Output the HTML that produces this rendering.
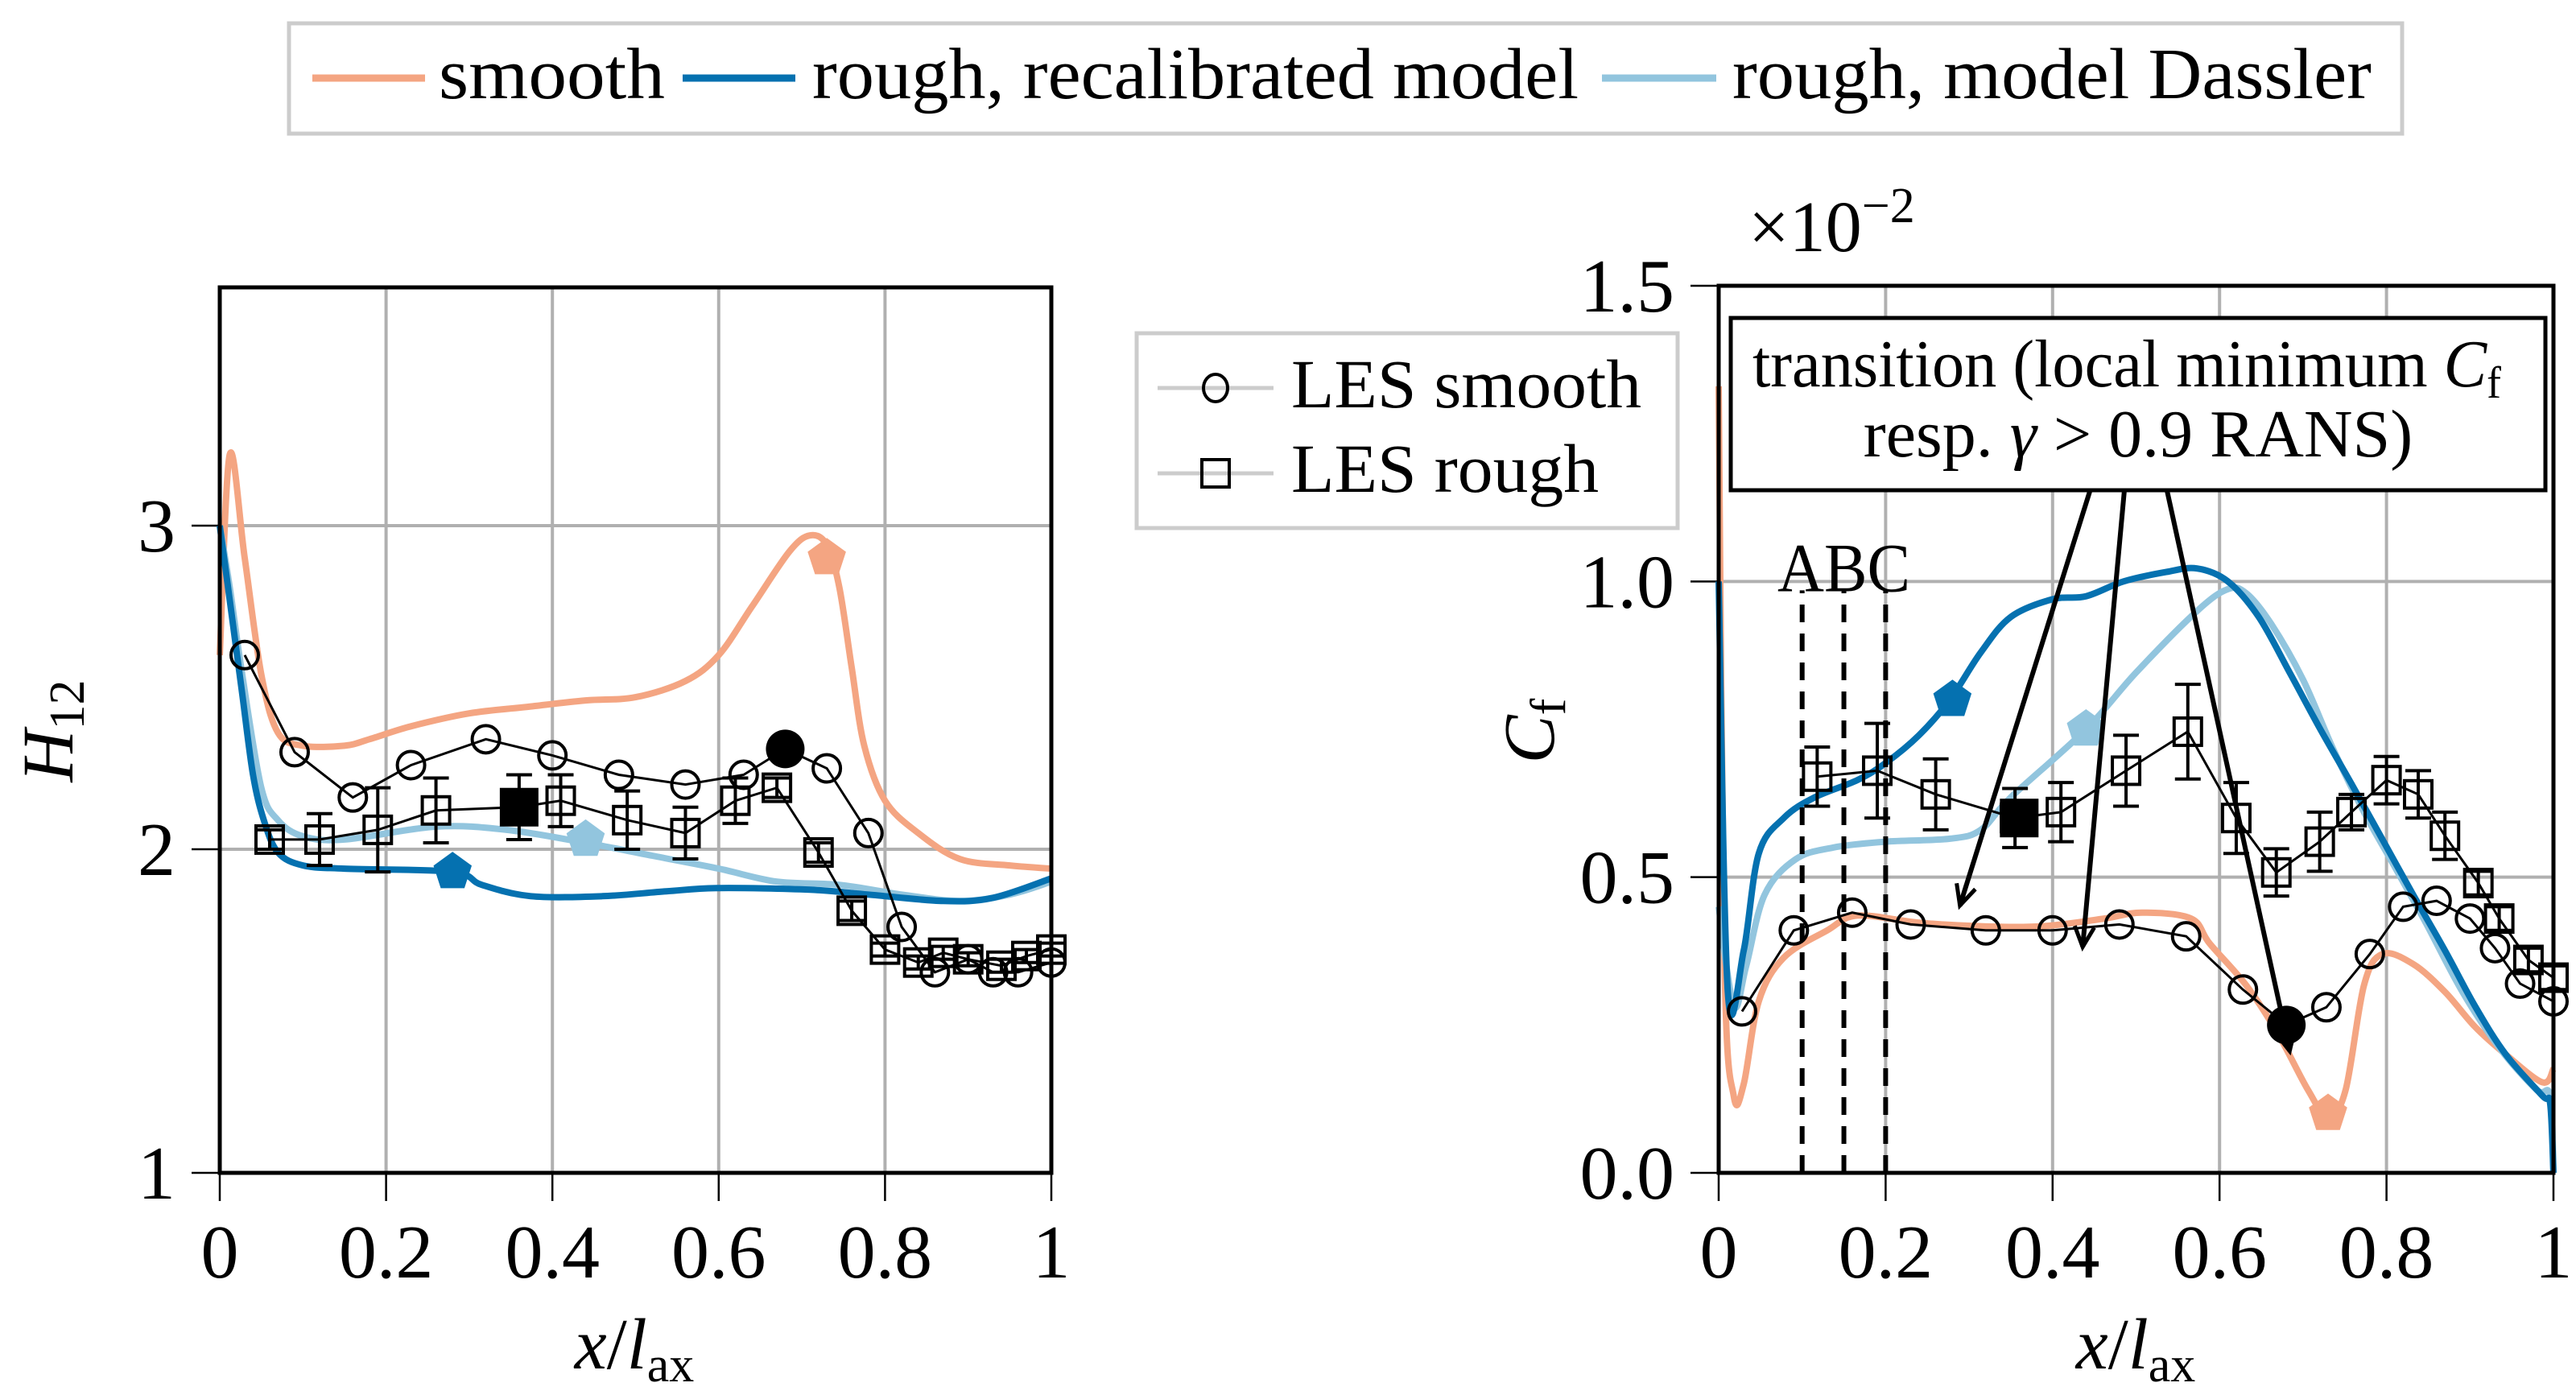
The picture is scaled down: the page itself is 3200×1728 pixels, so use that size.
<!DOCTYPE html>
<html><head><meta charset="utf-8"><style>
html,body{margin:0;padding:0;background:#fff;}
svg{display:block;font-family:"Liberation Serif",serif;}
</style></head><body>
<svg id="chart" width="3200" height="1728" viewBox="0 0 3200 1728">
<g id="top-legend">
 <rect x="359" y="29" width="2625" height="137" fill="#fff" stroke="#ccc" stroke-width="5"/>
 <line x1="388" y1="97" x2="528" y2="97" stroke="#f4a582" stroke-width="9"/>
 <text x="545" y="122" font-size="90" textLength="281" lengthAdjust="spacingAndGlyphs">smooth</text>
 <line x1="848" y1="97" x2="988" y2="97" stroke="#0571b0" stroke-width="9"/>
 <text x="1009" y="122" font-size="90" textLength="952" lengthAdjust="spacingAndGlyphs">rough, recalibrated model</text>
 <line x1="1990" y1="97" x2="2132" y2="97" stroke="#92c5de" stroke-width="9"/>
 <text x="2152" y="122" font-size="90" textLength="794" lengthAdjust="spacingAndGlyphs">rough, model Dassler</text>
</g>
<g id="les-legend">
 <rect x="1412" y="414" width="672" height="242" fill="#fff" stroke="#ccc" stroke-width="5"/>
 <line x1="1438" y1="482" x2="1582" y2="482" stroke="#ccc" stroke-width="5"/>
 <ellipse cx="1510" cy="482" rx="15" ry="17" fill="none" stroke="#000" stroke-width="4"/>
 <text x="1604" y="506" font-size="86" textLength="435" lengthAdjust="spacingAndGlyphs">LES smooth</text>
 <line x1="1438" y1="588" x2="1582" y2="588" stroke="#ccc" stroke-width="5"/>
 <rect x="1493" y="571" width="34" height="34" fill="none" stroke="#000" stroke-width="4"/>
 <text x="1604" y="611" font-size="86" textLength="382" lengthAdjust="spacingAndGlyphs">LES rough</text>
</g>
<g id="left"></g>
<g id="right"></g>
</svg>
<script>
// ---------- Left plot data (H12) ----------
const hSmoothX = [0,0.012,0.03,0.05,0.07,0.1,0.15,0.18,0.23,0.3,0.37,0.44,0.5,0.56,0.6,0.64,0.685,0.71,0.73,0.745,0.76,0.775,0.8,0.84,0.89,0.95,1];
const hSmoothY = [2.6,3.22,2.9,2.54,2.36,2.32,2.32,2.34,2.38,2.42,2.44,2.46,2.47,2.52,2.6,2.75,2.92,2.97,2.94,2.81,2.56,2.32,2.15,2.05,1.97,1.95,1.94];
const hRecalX = [0,0.012,0.027,0.04,0.053,0.07,0.1,0.15,0.28,0.315,0.374,0.46,0.537,0.6,0.71,0.78,0.87,0.93,1];
const hRecalY = [3.0,2.77,2.48,2.23,2.09,1.99,1.95,1.94,1.93,1.89,1.855,1.855,1.87,1.88,1.875,1.86,1.84,1.85,1.91];
const hDassX = [0,0.012,0.027,0.05,0.07,0.1,0.15,0.26,0.345,0.44,0.52,0.6,0.67,0.745,0.82,0.89,0.95,1];
const hDassY = [3.0,2.81,2.54,2.19,2.09,2.04,2.03,2.07,2.06,2.02,1.98,1.94,1.9,1.89,1.86,1.84,1.86,1.9];
const hLesSX = [0.03,0.09,0.16,0.23,0.32,0.4,0.48,0.56,0.63,0.68,0.73,0.78,0.82,0.86,0.9,0.93,0.96,1];
const hLesSY = [2.6,2.3,2.16,2.26,2.34,2.29,2.23,2.2,2.23,2.31,2.25,2.05,1.76,1.62,1.66,1.62,1.62,1.65];
const hLesRX = [0.06,0.12,0.19,0.26,0.36,0.41,0.49,0.56,0.62,0.67,0.72,0.76,0.8,0.84,0.87,0.9,0.94,0.97,1];
const hLesRY = [2.03,2.03,2.06,2.12,2.13,2.15,2.09,2.05,2.15,2.19,1.99,1.81,1.69,1.65,1.68,1.66,1.64,1.67,1.69];
const hLesRErr = [0.03,0.08,0.13,0.1,0.1,0.08,0.09,0.08,0.07,0.03,0.03,0.03,0.02,0.02,0.02,0.02,0.02,0.02,0.02];
const hTransRecal = [0.28,1.93];
const hTransDass = [0.44,2.03];
const hTransSmooth = [0.73,2.9];
const hTransLesS = [0.68,2.31];
const hTransLesR = [0.36,2.13];
const hXTicks = [0,0.2,0.4,0.6,0.8,1];
const hXTickLabels = ["0","0.2","0.4","0.6","0.8","1"];
const hYTicks = [1,2,3];
const hYTickLabels = ["1","2","3"];

// ---------- Right plot data (Cf, x1e-2) ----------
const cSmoothX = [0,0.007,0.018,0.03,0.048,0.078,0.13,0.166,0.24,0.314,0.388,0.462,0.507,0.566,0.588,0.632,0.67,0.706,0.73,0.751,0.773,0.795,0.832,0.87,0.906,0.943,0.987,1];
const cSmoothY = [1.33,0.35,0.13,0.15,0.29,0.364,0.41,0.435,0.423,0.417,0.417,0.43,0.44,0.43,0.388,0.317,0.235,0.14,0.094,0.14,0.317,0.37,0.353,0.306,0.247,0.2,0.153,0.176];
const cRecalX = [0,0.011,0.03,0.048,0.078,0.115,0.166,0.2,0.24,0.277,0.314,0.35,0.4,0.44,0.485,0.536,0.573,0.61,0.647,0.684,0.72,0.758,0.795,0.832,0.87,0.906,0.943,0.987,0.996,1];
const cRecalY = [1.0,0.305,0.376,0.54,0.6,0.635,0.664,0.693,0.74,0.8,0.88,0.94,0.97,0.975,1.0,1.016,1.022,1.0,0.94,0.846,0.752,0.658,0.564,0.47,0.376,0.282,0.2,0.13,0.117,0];
const cDassX = [0,0.018,0.033,0.055,0.092,0.137,0.2,0.277,0.314,0.35,0.44,0.5,0.573,0.61,0.632,0.662,0.7,0.736,0.773,0.81,0.847,0.891,0.936,0.98,0.996,1];
const cDassY = [0.45,0.282,0.35,0.47,0.53,0.55,0.56,0.565,0.58,0.635,0.75,0.846,0.95,0.987,0.98,0.928,0.834,0.717,0.61,0.517,0.423,0.306,0.21,0.14,0.13,0];
const cLesSX = [0.028,0.09,0.16,0.23,0.32,0.4,0.48,0.56,0.628,0.68,0.728,0.78,0.82,0.86,0.9,0.93,0.96,1];
const cLesSY = [0.273,0.41,0.44,0.42,0.41,0.41,0.42,0.4,0.31,0.25,0.28,0.37,0.45,0.46,0.43,0.38,0.32,0.29];
const cLesRX = [0.118,0.19,0.26,0.355,0.41,0.488,0.562,0.62,0.668,0.72,0.758,0.8,0.838,0.87,0.91,0.935,0.97,1];
const cLesRY = [0.67,0.68,0.64,0.6,0.61,0.68,0.746,0.6,0.508,0.56,0.61,0.664,0.64,0.57,0.49,0.43,0.36,0.33];
const cLesRErr = [0.05,0.08,0.06,0.05,0.05,0.06,0.08,0.06,0.04,0.05,0.03,0.04,0.04,0.04,0.02,0.02,0.02,0.02];
const cTransRecal = [0.28,0.8];
const cTransDass = [0.44,0.75];
const cTransSmooth = [0.73,0.1];
const cTransLesS = [0.68,0.25];
const cTransLesR = [0.36,0.6];
const cAbcLines = [0.1,0.15,0.2];
const cArrowStartX = [0.445,0.486,0.537];
const cArrowEndX = [0.289,0.436,0.684];
const cArrowEndY = [0.452,0.382,0.206];
const cXTicks = [0,0.2,0.4,0.6,0.8,1];
const cXTickLabels = ["0","0.2","0.4","0.6","0.8","1"];
const cYTicks = [0,0.5,1.0,1.5];
const cYTickLabels = ["0.0","0.5","1.0","1.5"];

const NS = "http://www.w3.org/2000/svg";
function mk(parent, tag, attrs) {
  const e = document.createElementNS(NS, tag);
  for (const k in attrs) e.setAttribute(k, attrs[k]);
  parent.appendChild(e);
  return e;
}
function linePath(xs, ys, sx, sy) {
  return xs.map((v, i) => (i ? "L" : "M") + sx(v).toFixed(1) + "," + sy(ys[i]).toFixed(1)).join(" ");
}
function smoothPath(xs, ys, sx, sy) {
  const P = xs.map((v, i) => [sx(v), sy(ys[i])]);
  let d = "M" + P[0][0].toFixed(1) + "," + P[0][1].toFixed(1);
  const t = 0.5 / 3;
  for (let i = 0; i < P.length - 1; i++) {
    const p0 = P[Math.max(0, i - 1)], p1 = P[i], p2 = P[i + 1], p3 = P[Math.min(P.length - 1, i + 2)];
    const c1 = [p1[0] + (p2[0] - p0[0]) * t, p1[1] + (p2[1] - p0[1]) * t];
    const c2 = [p2[0] - (p3[0] - p1[0]) * t, p2[1] - (p3[1] - p1[1]) * t];
    d += " C" + c1.map(v => v.toFixed(1)).join(",") + " " + c2.map(v => v.toFixed(1)).join(",") + " " + p2.map(v => v.toFixed(1)).join(",");
  }
  return d;
}
function pentagon(cx, cy, r) {
  const p = [];
  for (let i = 0; i < 5; i++) { const a = -Math.PI/2 + i*2*Math.PI/5; p.push((cx + r*Math.cos(a)).toFixed(1) + "," + (cy + r*Math.sin(a)).toFixed(1)); }
  return p.join(" ");
}

function drawPlot(g, cfg) {
  const sx = v => cfg.x0 + (v - cfg.xmin) / (cfg.xmax - cfg.xmin) * (cfg.x1 - cfg.x0);
  const sy = v => cfg.yb + (v - cfg.ymin) / (cfg.ymax - cfg.ymin) * (cfg.yt - cfg.yb);
  cfg.xt.forEach((t, i) => {
    if (i > 0 && i < cfg.xt.length - 1) {
      const gl = mk(g, "line", {x1: sx(t), x2: sx(t), y1: cfg.yt, y2: cfg.yb, stroke: "#b0b0b0", "stroke-width": 4});
      
      
    }
    const tk = mk(g, "line", {x1: sx(t), x2: sx(t), y1: cfg.yb, y2: cfg.yb + 35, stroke: "#000", "stroke-width": 2.5});
    
    
    const tl = mk(g, "text", {x: sx(t), y: cfg.yb + 130, "font-size": 94, "text-anchor": "middle"});
    tl.textContent = cfg.xl[i];
    
    
  });
  cfg.yt_.forEach((t, i) => {
    if (sy(t) > cfg.yt + 2 && sy(t) < cfg.yb - 2) {
      const gl = mk(g, "line", {x1: cfg.x0, x2: cfg.x1, y1: sy(t), y2: sy(t), stroke: "#b0b0b0", "stroke-width": 4});
      
      
    }
    const tk = mk(g, "line", {x1: cfg.x0 - 35, x2: cfg.x0, y1: sy(t), y2: sy(t), stroke: "#000", "stroke-width": 2.5});
    
    
    const tl = mk(g, "text", {x: cfg.x0 - 55, y: sy(t) + 32, "font-size": 94, "text-anchor": "end"});
    tl.textContent = cfg.yl[i];
    
    
  });
  const curves = [[cfg.smX, cfg.smY, "#f4a582", "smooth-curve"], [cfg.daX, cfg.daY, "#92c5de", "dassler-curve"], [cfg.reX, cfg.reY, "#0571b0", "recalibrated-curve"]];
  curves.forEach(c => {
    const p = mk(g, "path", {d: smoothPath(c[0], c[1], sx, sy), fill: "none", stroke: c[2], "stroke-width": 8, "stroke-linejoin": "round"});
    
    
  });
  const ls = mk(g, "path", {d: linePath(cfg.lsX, cfg.lsY, sx, sy), fill: "none", stroke: "#000", "stroke-width": 3});
  
  
  const lr = mk(g, "path", {d: linePath(cfg.lrX, cfg.lrY, sx, sy), fill: "none", stroke: "#000", "stroke-width": 3});
  
  
  cfg.lrX.forEach((v, i) => {
    const x = sx(v), ya = sy(cfg.lrY[i] + cfg.lrE[i]), yb = sy(cfg.lrY[i] - cfg.lrE[i]);
    const eb = mk(g, "path", {d: `M${x},${ya} L${x},${yb} M${x-16},${ya} L${x+16},${ya} M${x-16},${yb} L${x+16},${yb}`, stroke: "#000", "stroke-width": 4, fill: "none"});
    
    
    const sq = mk(g, "rect", {x: x - 17, y: sy(cfg.lrY[i]) - 17, width: 34, height: 34, fill: "none", stroke: "#000", "stroke-width": 4});
    
    
  });
  cfg.lsX.forEach((v, i) => {
    const c = mk(g, "circle", {cx: sx(v), cy: sy(cfg.lsY[i]), r: 17, fill: "none", stroke: "#000", "stroke-width": 4});
    
    
  });
  const pm = [[cfg.tSm, "#f4a582", "transition-smooth-marker"], [cfg.tDa, "#92c5de", "transition-dassler-marker"], [cfg.tRe, "#0571b0", "transition-recalibrated-marker"]];
  pm.forEach(m => {
    const p = mk(g, "polygon", {points: pentagon(sx(m[0][0]), sy(m[0][1]), 25), fill: m[1]});
    
    
  });
  const fc = mk(g, "circle", {cx: sx(cfg.tLs[0]), cy: sy(cfg.tLs[1]), r: 24, fill: "#000"});
  
  
  const fs = mk(g, "rect", {x: sx(cfg.tLr[0]) - 24, y: sy(cfg.tLr[1]) - 24, width: 48, height: 48, fill: "#000"});
  
  
  const fr = mk(g, "rect", {x: cfg.x0, y: cfg.yt, width: cfg.x1 - cfg.x0, height: cfg.yb - cfg.yt, fill: "none", stroke: "#000", "stroke-width": 5});
  
  
  return {sx, sy};
}

const L = document.getElementById("left");
drawPlot(L, {x0: 273, x1: 1306, yt: 357, yb: 1457, xmin: 0, xmax: 1, ymin: 1, ymax: 1 + 1100/402,
  xt: hXTicks, xl: hXTickLabels, yt_: hYTicks, yl: hYTickLabels,
  smX: hSmoothX, smY: hSmoothY, reX: hRecalX, reY: hRecalY, daX: hDassX, daY: hDassY,
  lsX: hLesSX, lsY: hLesSY, lrX: hLesRX, lrY: hLesRY, lrE: hLesRErr,
  tSm: hTransSmooth, tDa: hTransDass, tRe: hTransRecal, tLs: hTransLesS, tLr: hTransLesR});

const R = document.getElementById("right");
const rs = drawPlot(R, {x0: 2135, x1: 3172, yt: 355, yb: 1457, xmin: 0, xmax: 1, ymin: 0, ymax: 1.5,
  xt: cXTicks, xl: cXTickLabels, yt_: cYTicks, yl: cYTickLabels,
  smX: cSmoothX, smY: cSmoothY, reX: cRecalX, reY: cRecalY, daX: cDassX, daY: cDassY,
  lsX: cLesSX, lsY: cLesSY, lrX: cLesRX, lrY: cLesRY, lrE: cLesRErr,
  tSm: cTransSmooth, tDa: cTransDass, tRe: cTransRecal, tLs: cTransLesS, tLr: cTransLesR});

cAbcLines.forEach(v => {
  const d = mk(R, "line", {x1: rs.sx(v), x2: rs.sx(v), y1: rs.sy(0), y2: rs.sy(0.985), stroke: "#000", "stroke-width": 6, "stroke-dasharray": "22,14"});
  
  
});
const abc = mk(R, "text", {x: rs.sx(0.15), y: rs.sy(1.0) + 12, "font-size": 86, "text-anchor": "middle", textLength: 165, lengthAdjust: "spacingAndGlyphs"});
abc.textContent = "ABC";



cArrowStartX.forEach((v, i) => {
  const x1 = rs.sx(v), y1 = 609, x2 = rs.sx(cArrowEndX[i]), y2 = rs.sy(cArrowEndY[i]);
  const a = mk(R, "line", {x1: x1, y1: y1, x2: x2, y2: y2, stroke: "#000", "stroke-width": 6});
  
  
  const ang = Math.atan2(y2 - y1, x2 - x1), hl = 28;
  const h = mk(R, "path", {d: `M${x2 - hl*Math.cos(ang - 0.45)},${y2 - hl*Math.sin(ang - 0.45)} L${x2},${y2} L${x2 - hl*Math.cos(ang + 0.45)},${y2 - hl*Math.sin(ang + 0.45)}`, fill: "none", stroke: "#000", "stroke-width": 5});
  
  
});
const tb = mk(R, "rect", {x: 2150, y: 395, width: 1012, height: 214, fill: "#fff", stroke: "#000", "stroke-width": 5});


const t1 = mk(R, "text", {x: 2177, y: 480, "font-size": 84, textLength: 930, lengthAdjust: "spacingAndGlyphs"});
t1.innerHTML = 'transition (local minimum <tspan font-style="italic">C</tspan><tspan font-size="56" dy="14">f</tspan>';


const t2 = mk(R, "text", {x: 2656, y: 567, "font-size": 84, "text-anchor": "middle"});
t2.innerHTML = 'resp. <tspan font-style="italic">γ</tspan> &gt; 0.9 RANS)';



const svg = document.getElementById("chart");
const xl1 = mk(svg, "text", {x: 788, y: 1700, "font-size": 90, "text-anchor": "middle"});
xl1.innerHTML = '<tspan font-style="italic">x</tspan>/<tspan font-style="italic">l</tspan><tspan font-size="62" dy="16">ax</tspan>';


const xl2 = mk(svg, "text", {x: 2653, y: 1700, "font-size": 90, "text-anchor": "middle"});
xl2.innerHTML = '<tspan font-style="italic">x</tspan>/<tspan font-style="italic">l</tspan><tspan font-size="62" dy="16">ax</tspan>';


const yl1 = mk(svg, "text", {x: 0, y: 0, "font-size": 90, "text-anchor": "middle", transform: "translate(90,908) rotate(-90)"});
yl1.innerHTML = '<tspan font-style="italic">H</tspan><tspan font-size="62" dy="14">12</tspan>';


const yl2 = mk(svg, "text", {x: 0, y: 0, "font-size": 90, "text-anchor": "middle", transform: "translate(1930,908) rotate(-90)"});
yl2.innerHTML = '<tspan font-style="italic">C</tspan><tspan font-size="62" dy="14">f</tspan>';


const sc = mk(svg, "text", {x: 2172, y: 312, "font-size": 90});
sc.innerHTML = '×10<tspan font-size="62" dy="-36">−2</tspan>';


</script>
</body></html>
